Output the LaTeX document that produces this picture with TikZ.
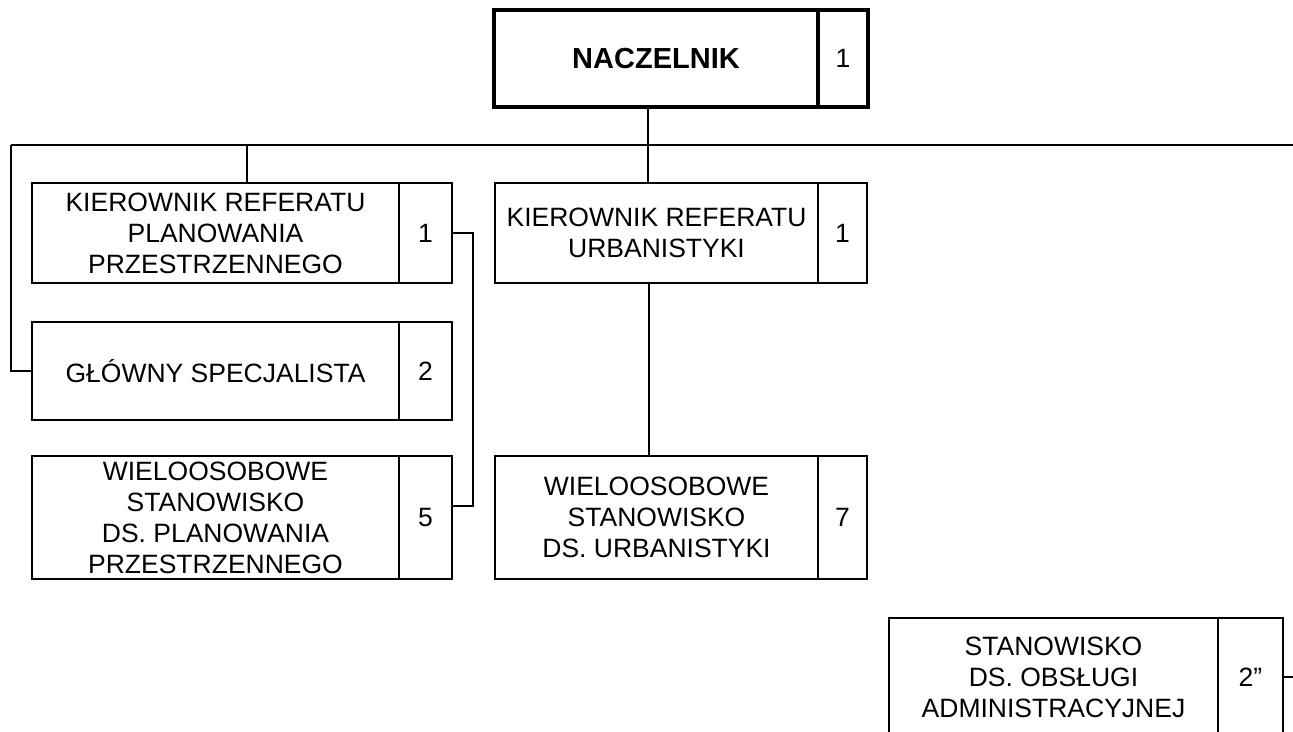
\documentclass[tikz,border=0pt]{standalone}
\usepackage{fontspec}
\setmainfont{Liberation Sans}
\usetikzlibrary{positioning}
\begin{document}
\begin{tikzpicture}[x=1pt, y=-1pt,
  every node/.style={inner sep=0pt, outer sep=0pt, align=center, font=\fontsize{26.5}{31}\selectfont},
  post/.style={draw, line width=2pt, minimum height=#1},
  head/.style={draw, line width=3.5pt, minimum height=97pt},
  link/.style={line width=2pt}]
  \useasboundingbox (0,0) rectangle (1293,731);
  \clip (0,0) rectangle (1293,731);

  % head of the unit
  \node[head, minimum width=324pt, font=\bfseries\fontsize{29}{34}\selectfont] (nacz) at (656,58.5) {NACZELNIK};
  \node[head, minimum width=50pt, right=0pt of nacz] (naczn) {1};

  % left column
  \node[post=100pt, minimum width=367pt] (kpp) at (215.5,233) {KIEROWNIK REFERATU\\PLANOWANIA\\PRZESTRZENNEGO};
  \node[post=100pt, minimum width=53pt, right=0pt of kpp] (kppn) {1};
  \node[post=98pt, minimum width=367pt] (gs) at (215.5,371) {GŁÓWNY SPECJALISTA};
  \node[post=98pt, minimum width=53pt, right=0pt of gs] (gsn) {2};
  \node[post=123pt, minimum width=367pt] (wpp) at (215.5,517.5) {WIELOOSOBOWE\\STANOWISKO\\DS. PLANOWANIA\\PRZESTRZENNEGO};
  \node[post=123pt, minimum width=53pt, right=0pt of wpp] (wppn) {5};

  % middle column
  \node[post=100pt, minimum width=323pt] (kru) at (656.5,233) {KIEROWNIK REFERATU\\URBANISTYKI};
  \node[post=100pt, minimum width=49pt, right=0pt of kru] (krun) {1};
  \node[post=123pt, minimum width=323pt] (wru) at (656.5,517.5) {WIELOOSOBOWE\\STANOWISKO\\DS. URBANISTYKI};
  \node[post=123pt, minimum width=49pt, right=0pt of wru] (wrun) {7};

  % right column
  \node[post=118pt, minimum width=329pt] (soa) at (1053.5,677) {STANOWISKO\\DS. OBSŁUGI\\ADMINISTRACYJNEJ};
  \node[post=118pt, minimum width=65pt, right=0pt of soa] (soan) {2”};

  % connectors
  \coordinate (busl) at (11,145);
  \coordinate (busr) at (1300,145);
  \coordinate (mid) at (648,145);
  \coordinate (kppj) at (247,145);
  \coordinate (soae) at (1300,677);

  \draw[link] (busl) -- (busr);
  \draw[link] (mid |- nacz.south) -- (mid |- kru.north);
  \draw[link] (kppj) -- (kppj |- kpp.north);
  \draw[link] (busl) |- (gs.west);
  \draw[link] (kppn.east) -- ++(21,0) |- ([yshift=11.5pt]wppn.east);
  \draw[link] ([xshift=1pt]kru.south -| mid) -- ([xshift=1pt]wru.north -| mid);
  \draw[link] (soan.east) -- (soae);

\end{tikzpicture}
\end{document}
